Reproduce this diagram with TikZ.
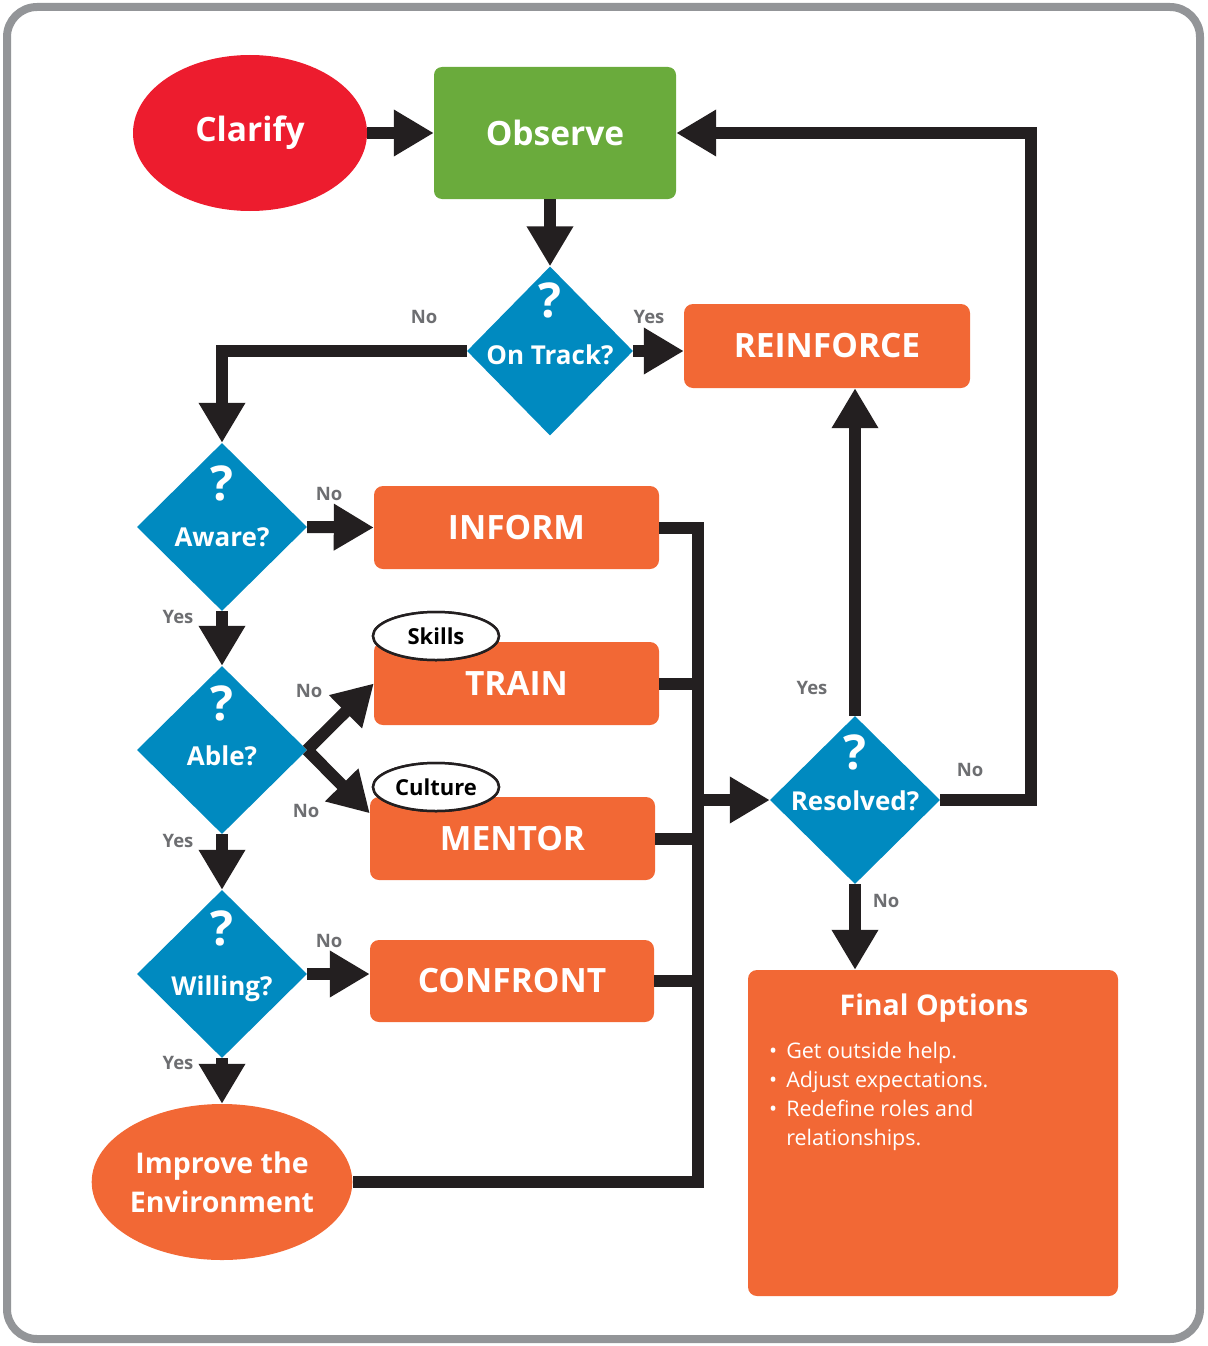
\documentclass[tikz,border=0pt]{standalone}
\usepackage{fontspec}
\setmainfont{Open Sans}
\usetikzlibrary{arrows.meta,shapes.geometric}
\definecolor{cred}{HTML}{ED1C2E}
\definecolor{cgreen}{HTML}{6AAB3C}
\definecolor{corange}{HTML}{F26835}
\definecolor{cblue}{HTML}{008AC0}
\definecolor{cline}{HTML}{231F20}
\definecolor{clab}{HTML}{6D6E71}
\definecolor{cframe}{HTML}{939598}
\begin{document}
\begin{tikzpicture}[x=1pt,y=-1pt,
  ln/.style={draw=cline, line width=12pt},
  arr/.style={ln, -{Triangle[length=40pt,width=44pt]}},
  boxo/.style={rectangle, rounded corners=9pt, fill=corange, inner sep=0pt, text=white,
    font=\fontsize{33.5}{36}\selectfont\bfseries},
  dia/.style={diamond, fill=cblue, inner sep=0pt, minimum width=170pt, minimum height=168pt},
  qm/.style={text=white, inner sep=0pt, font=\fontsize{48}{50}\selectfont\bfseries},
  dl/.style={text=white, inner sep=0pt, font=\fontsize{26}{28}\selectfont\bfseries},
  lab/.style={text=clab, inner sep=0pt, font=\fontsize{18.5}{20}\selectfont\bfseries},
  tag/.style={ellipse, draw=cline, line width=2.5pt, fill=white, inner sep=0pt,
    minimum width=126pt, minimum height=48pt, font=\fontsize{22}{24}\selectfont\bfseries}
]
\useasboundingbox (0,0) rectangle (1207,1346);
\draw[cframe, line width=8pt, rounded corners=30pt] (7,7) rectangle (1200,1339);

% nodes
\node[ellipse, fill=cred, minimum width=234pt, minimum height=156pt, inner sep=0pt,
  text=white, font=\fontsize{33.5}{36}\selectfont\bfseries] (clar) at (250,133) {Clarify};
\node[rectangle, rounded corners=8pt, fill=cgreen, minimum width=242pt, minimum height=132pt,
  inner sep=0pt, text=white, font=\fontsize{33.5}{36}\selectfont\bfseries] (obs) at (555,133) {Observe};
\node[dia, minimum width=166pt, minimum height=169pt] (ot) at (550,351) {};
\node[qm] at (550,300) {?};
\node[dl] at (550,355) {On Track?};
\node[boxo, minimum width=286pt, minimum height=84pt] (rein) at (827,346) {REINFORCE};

\node[dia] (aw) at (222,527) {};
\node[qm] at (222,483) {?};
\node[dl] at (222,537) {Aware?};
\node[boxo, minimum width=285pt, minimum height=83pt] (inform) at (516.5,527.5) {INFORM};

\node[dia] (able) at (222,750) {};
\node[qm] at (222,703) {?};
\node[dl] at (222,756) {Able?};
\node[boxo, minimum width=285pt, minimum height=83pt] (train) at (516.5,683.5) {TRAIN};
\node[boxo, minimum width=285pt, minimum height=83pt] (mentor) at (512.5,838.5) {MENTOR};
\node[tag] (skills) at (436,636) {Skills};
\node[tag] (culture) at (436,787) {Culture};

\node[dia] (will) at (222,974) {};
\node[qm] at (222,928) {?};
\node[dl] at (222,989) {Willing?};
\node[boxo, minimum width=284pt, minimum height=82pt] (confront) at (512,981) {CONFRONT};

\node[ellipse, fill=corange, minimum width=257pt, minimum height=156pt, inner sep=0pt,
  text=white, align=center, font=\fontsize{28.5}{39}\selectfont\bfseries] (improve) at (222,1182)
  {Improve the\\Environment};

\node[dia] (res) at (855,800) {};
\node[qm] at (855,752) {?};
\node[dl] at (855,801) {Resolved?};

\node[rectangle, rounded corners=9pt, fill=corange, minimum width=370pt, minimum height=326pt,
  inner sep=0pt] (final) at (933,1133) {};
\node[text=white, inner sep=0pt, font=\fontsize{28.5}{30}\selectfont\bfseries] (ftitle) at (934,1008) {Final Options};
\node[text=white, inner sep=0pt, anchor=north west, font=\fontsize{21.5}{29}\selectfont] (flist) at (769,1038)
  {\begin{tabular}{@{}l@{\hspace{9pt}}l@{}}
  • & Get outside help.\\
  • & Adjust expectations.\\
  • & Redefine roles and\\
    & relationships.
  \end{tabular}};

% coordinates
\coordinate (busb) at (698,1182);
\coordinate (fbtop) at (1031,133);

% connectors
\draw[arr] (clar.east) -- (obs.west);
\draw[arr] (obs.south -| ot.north) -- (ot.north);
\draw[arr] (ot.east) -- (ot.east -| rein.west);
\draw[arr] (ot.west) -| (aw.north);
\draw[arr] (aw.east) -- (inform.west);
\draw[arr] (aw.south) -- (able.north);
\draw[arr] (able.east) -- (train.west);
\draw[arr] (able.east) -- (mentor.170);
\draw[arr] (able.south) -- (will.north);
\draw[arr] (will.east) -- (will.east -| confront.west);
\draw[arr] (will.south) -- (improve.north);
\draw[ln] (inform.east) -| (busb) -- (improve.east);
\draw[ln] (train.east) -- (train.east -| busb);
\draw[ln] (mentor.east) -- (mentor.east -| busb);
\draw[ln] (confront.east) -- (confront.east -| busb);
\draw[arr] (busb |- res.west) -- (res.west);
\draw[arr] (res.north) -- (res.north |- rein.south);
\draw[arr] (res.south) -- (res.south |- final.north);
\draw[arr] (res.east) -| (fbtop) -- (obs.east);

% redraw tags on top of lines
\node[tag] at (skills) {Skills};
\node[tag] at (culture) {Culture};

% labels
\node[lab] at (424,317) {No};
\node[lab] at (649,317) {Yes};
\node[lab] at (329,494) {No};
\node[lab] at (178,617) {Yes};
\node[lab] at (309,691) {No};
\node[lab] at (306,811) {No};
\node[lab] at (178,841) {Yes};
\node[lab] at (329,941) {No};
\node[lab] at (178,1063) {Yes};
\node[lab] at (812,688) {Yes};
\node[lab] at (970,770) {No};
\node[lab] at (886,901) {No};
\end{tikzpicture}
\end{document}
